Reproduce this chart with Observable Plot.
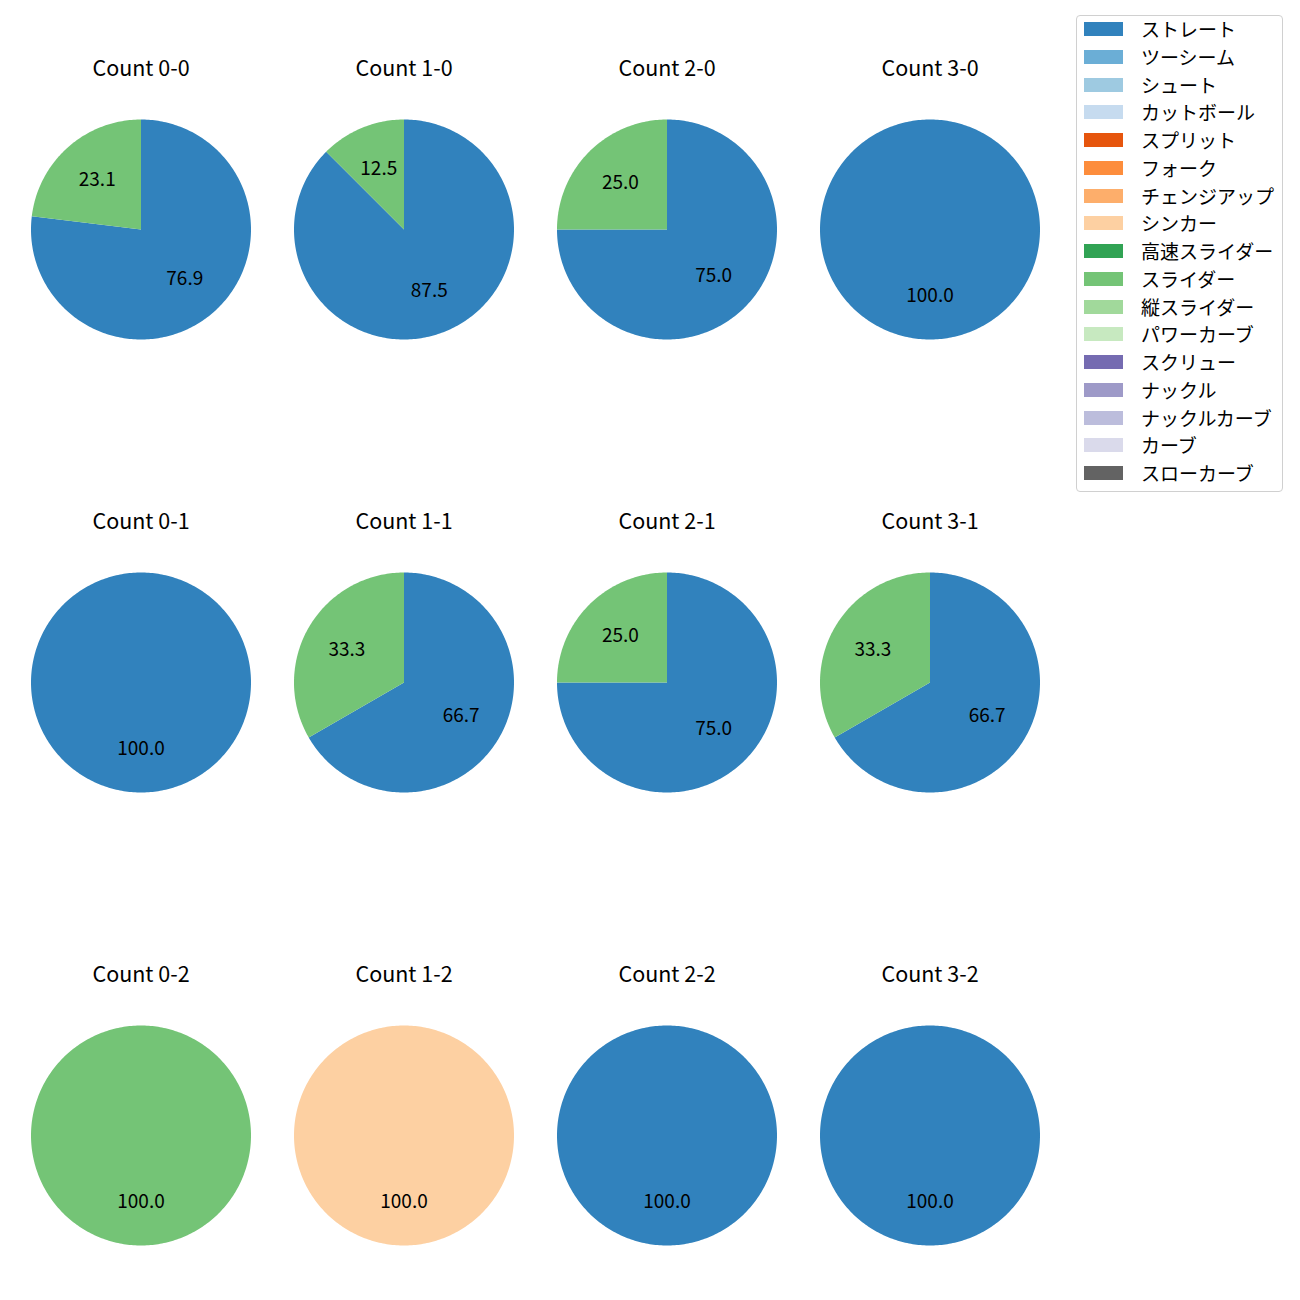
<!DOCTYPE html>
<html><head><meta charset="utf-8">
<script src="https://cdn.jsdelivr.net/npm/d3@7"></script>
<script src="https://cdn.jsdelivr.net/npm/@observablehq/plot@0.6"></script>
<style>
html,body{margin:0;padding:0;background:#fff;overflow:hidden;}
#wrap{position:relative;width:1300px;height:1300px;overflow:hidden;font-family:"Noto Sans CJK JP","Noto Sans",sans-serif;}
#chart{position:absolute;left:0;top:0;}
#legend{position:absolute;left:1076px;top:15px;width:207px;height:477px;border:1px solid #d0d0d0;border-radius:4px;box-sizing:border-box;background:#fff;}
.item{position:absolute;left:0;height:20px;width:200px;}
.sw{position:absolute;left:7px;top:3px;width:39px;height:14px;}
.lb{position:absolute;left:64px;top:-3px;font-size:19px;line-height:26px;color:#000;white-space:nowrap;}
</style>
</head><body>
<div id="wrap"><div id="chart"></div><div id="legend"></div></div>
<script>
const pitchTypes = ["ストレート","ツーシーム","シュート","カットボール","スプリット","フォーク","チェンジアップ","シンカー","高速スライダー","スライダー","縦スライダー","パワーカーブ","スクリュー","ナックル","ナックルカーブ","カーブ","スローカーブ"];
const pitchColors = ["#3182bd","#6baed6","#9ecae1","#c6dbef","#e6550d","#fd8d3c","#fdae6b","#fdd0a2","#31a354","#74c476","#a1d99b","#c7e9c0","#756bb1","#9e9ac8","#bcbddc","#dadaeb","#636363"];
const countBalls   = [0,1,2,3, 0,1,2,3, 0,1,2,3];
const countStrikes = [0,0,0,0, 1,1,1,1, 2,2,2,2];
const straightCounts = [10,7,3,1, 1,2,3,2, 0,0,1,1];
const sinkerCounts   = [0,0,0,0, 0,0,0,0, 0,1,0,0];
const sliderCounts   = [3,1,1,0, 0,1,1,1, 1,0,0,0];

const seriesByType = {"ストレート": straightCounts, "シンカー": sinkerCounts, "スライダー": sliderCounts};

const polyPoints = [];
const labels = [];
const titles = [];
countBalls.forEach((b, i) => {
  const s = countStrikes[i];
  titles.push({b, s, text: `Count ${b}-${s}`});
  const rows = pitchTypes.filter(t => seriesByType[t]).map(t => ({type: t, n: seriesByType[t][i]})).filter(d => d.n > 0);
  const total = d3.sum(rows, d => d.n);
  const arcs = d3.pie().sort(null).value(d => d.n)(rows);
  arcs.forEach((a, j) => {
    const key = `${i}-${j}`;
    const steps = Math.max(2, Math.ceil((a.endAngle - a.startAngle) / (2 * Math.PI) * 360));
    polyPoints.push({key, type: a.data.type, b, s, x: 0, y: 0});
    for (let k = 0; k <= steps; k++) {
      const ang = a.startAngle + (a.endAngle - a.startAngle) * k / steps;
      polyPoints.push({key, type: a.data.type, b, s, x: Math.sin(ang), y: Math.cos(ang)});
    }
    const mid = (a.startAngle + a.endAngle) / 2;
    labels.push({b, s, x: 0.6 * Math.sin(mid), y: 0.6 * Math.cos(mid), text: (100 * a.data.n / total).toFixed(1)});
  });
});

const R = 110;
const chart = Plot.plot({
  width: 1070,
  height: 1359,
  marginLeft: 9, marginRight: 9, marginTop: 0, marginBottom: 0,
  facet: {marginTop: 0, marginRight: 0, marginBottom: 0, marginLeft: 0},
  style: {fontFamily: '"Noto Sans CJK JP","Noto Sans",sans-serif', background: "white", color: "black"},
  fx: {domain: [0,1,2,3], axis: null, padding: 0},
  fy: {domain: [0,1,2], axis: null, padding: 0},
  x: {domain: [-131.5 / R, 131.5 / R], axis: null},
  y: {domain: [-224 / R, 229 / R], axis: null},
  color: {domain: pitchTypes, range: pitchColors},
  marks: [
    Plot.line(polyPoints, {x: "x", y: "y", z: "key", fill: "type", stroke: "none", fx: "b", fy: "s", curve: "linear-closed"}),
    Plot.text(labels, {x: "x", y: "y", text: "text", fx: "b", fy: "s", fontSize: 19, fill: "black"}),
    Plot.text(titles, {text: "text", fx: "b", fy: "s", frameAnchor: "top", lineAnchor: "middle", dy: 69, fontSize: 21.5, fill: "black"})
  ]
});
document.getElementById("chart").appendChild(chart);

const legend = document.getElementById("legend");
pitchTypes.forEach((t, i) => {
  const it = document.createElement("div");
  it.className = "item";
  it.style.top = (3 + i * 27.75) + "px";
  const sw = document.createElement("div");
  sw.className = "sw";
  sw.style.background = pitchColors[i];
  const lb = document.createElement("div");
  lb.className = "lb";
  lb.textContent = t;
  it.appendChild(sw); it.appendChild(lb);
  legend.appendChild(it);
});
</script>
</body></html>
